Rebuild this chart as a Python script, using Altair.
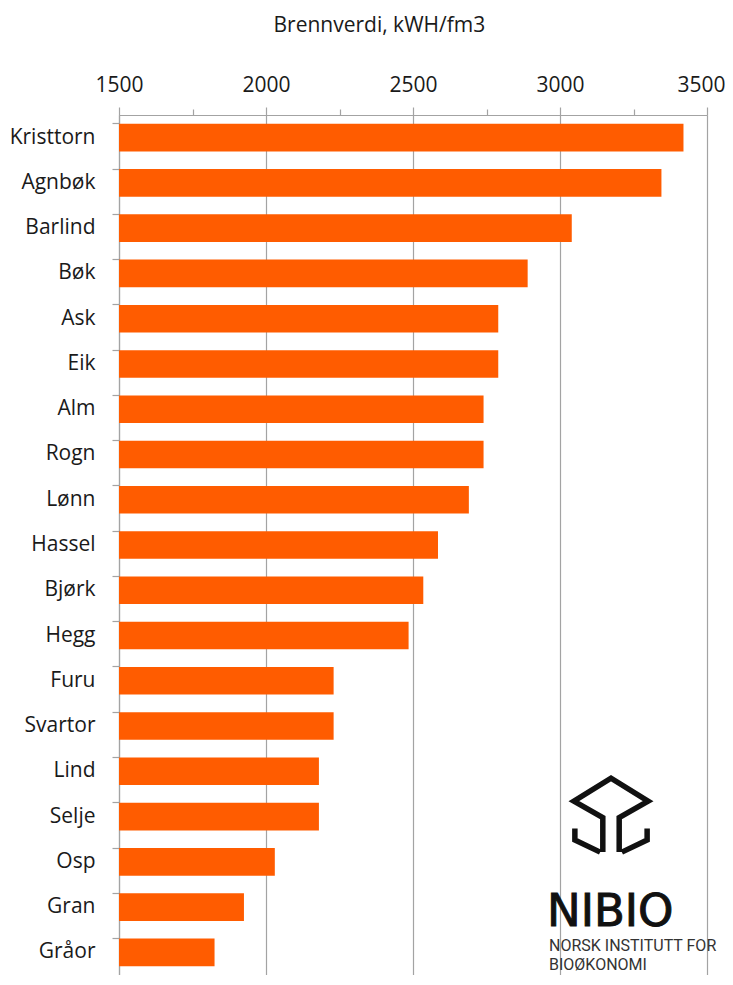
import altair as alt
import pandas as pd

species = ["Kristtorn", "Agnbøk", "Barlind", "Bøk", "Ask", "Eik", "Alm", "Rogn",
           "Lønn", "Hassel", "Bjørk", "Hegg", "Furu", "Svartor", "Lind", "Selje",
           "Osp", "Gran", "Gråor"]
values = [3420, 3345, 3040, 2890, 2790, 2790, 2740, 2740, 2690, 2585, 2535, 2485,
          2230, 2230, 2180, 2180, 2030, 1925, 1825]
tick_values = [1500, 1750, 2000, 2250, 2500, 2750, 3000, 3250, 3500]
logo_lines = ["NIBIO", "NORSK INSTITUTT FOR", "BIOØKONOMI"]

df = pd.DataFrame({"art": species, "verdi": values})

W, H = 588, 860
FONT = "Open Sans"
GREY = "#A3A3A3"

bars = alt.Chart(df).mark_bar(color="#FF5C00").encode(
    x=alt.X("verdi:Q",
            scale=alt.Scale(domain=[1500, 3500], nice=False, zero=False, clamp=True),
            axis=alt.Axis(orient="top", values=tick_values,
                          labelExpr="datum.value % 500 == 0 ? datum.label : ''",
                          format="d", labelFlush=False, labelOverlap=False,
                          labelOffset={"condition": {"test": "datum.value == 3500", "value": -6}, "value": 0},
                          title="Brennverdi, kWH/fm3",
                          titleX=154, titleY=-84, titleAlign="left",
                          titleBaseline="alphabetic",
                          titleFont=FONT, titleFontSize=21, titleFontWeight="normal",
                          titleColor="#1a1a1a",
                          labelFont=FONT, labelFontSize=21, labelColor="#1a1a1a",
                          labelPadding=12,
                          grid=True, gridColor=GREY, gridWidth=1.2,
                          gridOpacity={"condition": {"test": "datum.value % 500 != 0", "value": 0}, "value": 1},
                          tickColor=GREY, tickWidth=1.2,
                          tickSize={"condition": {"test": "datum.value % 500 != 0", "value": 6}, "value": 8},
                          domainColor=GREY, domainWidth=1.2)),
    y=alt.Y("art:N", sort=species,
            scale=alt.Scale(paddingInner=0.39, paddingOuter=0.195),
            axis=alt.Axis(title=None, bandPosition=0,
                          labelFont=FONT, labelFontSize=21, labelColor="#1a1a1a",
                          labelPadding=17, tickSize=7, tickColor=GREY, tickWidth=1.2,
                          domainColor=GREY, domainWidth=1.2, grid=False,
                          labelBaseline="middle")),
)

icon_path = ("M -0.217 0.983 L -0.217 0.070 L -0.983 -0.365 L 0 -0.974 L 0.983 -0.365 "
             "L 0.217 0.070 L 0.217 0.983 "
             "M -0.957 0.357 L -0.957 0.661 L -0.287 0.983 "
             "M 0.957 0.357 L 0.957 0.661 L 0.287 0.983")

icon = alt.Chart(pd.DataFrame({"k": [0]})).mark_point(
    shape=icon_path, filled=False, stroke="#111111", strokeWidth=5.5,
    size=5700, opacity=1, strokeJoin="miter", strokeCap="butt"
).encode(x=alt.value(492), y=alt.value(700))

logo_df = pd.DataFrame({"t": logo_lines})
nibio = alt.Chart(logo_df.iloc[[0]]).mark_text(
    font="DejaVu Sans", fontSize=45, align="left", baseline="alphabetic",
    color="#111111", stroke="#111111", strokeWidth=1
).encode(text="t:N", x=alt.value(428), y=alt.value(811))
sub1 = alt.Chart(logo_df.iloc[[1]]).mark_text(
    font="Roboto", fontSize=16, align="left", baseline="alphabetic", color="#333333"
).encode(text="t:N", x=alt.value(430), y=alt.value(836))
sub2 = alt.Chart(logo_df.iloc[[2]]).mark_text(
    font="Roboto", fontSize=16, align="left", baseline="alphabetic", color="#333333"
).encode(text="t:N", x=alt.value(430), y=alt.value(855))

chart = alt.layer(bars, icon, nibio, sub1, sub2).properties(
    width=W, height=H,
    autosize=alt.AutoSizeParams(type="none"),
    padding={"left": 111, "top": 107, "right": 18, "bottom": 0},
).configure_view(stroke=None).configure(background="white")

chart.save("out.html", embed_options={"renderer": "svg", "actions": False})
